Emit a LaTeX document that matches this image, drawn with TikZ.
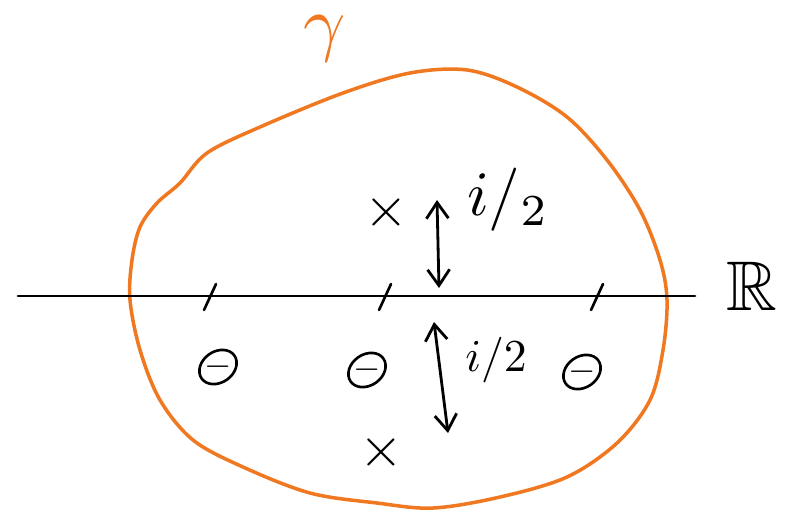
\documentclass[tikz,border=0pt]{standalone}
\usepackage{amsmath,amssymb}
\usetikzlibrary{arrows.meta,positioning,shapes.geometric}
\definecolor{curveorange}{RGB}{240,120,32}

\begin{document}
\begin{tikzpicture}[x=0.02cm,y=-0.02cm,
  ink/.style={line width=1.6pt,line cap=round,line join=round},
  pole/.style={inner sep=0pt,scale=3.2},
  zero/.style={draw,ellipse,line width=1.5pt,minimum width=0.8cm,minimum height=0.62cm,
               inner sep=0pt,rotate=35},
  minus/.style={inner sep=0pt,scale=2},
  tick/.style={ink,line width=1.5pt},
  arr/.style={ink,{Straight Barb[length=3.2mm,width=4.4mm]}-{Straight Barb[length=3.2mm,width=4.4mm]}}]
\useasboundingbox (0,0) rectangle (800,515);
% contour gamma
\draw[curveorange,line width=2pt] plot[smooth cycle,tension=0.55] coordinates {
  (130,300) (132,260) (140,227) (157,203) (180,183) (207,153) (260,127)
  (343,93) (410,73) (467,70) (517,87) (567,117) (607,160) (640,210)
  (660,260) (667,300) (663,350) (650,400) (617,443) (567,477) (500,497)
  (433,508) (377,503) (310,493) (243,467) (193,440) (160,400) (140,350)};
\node[curveorange,scale=4.2,inner sep=0pt] (gam) at (325,39) {$\gamma$};
% real axis
\coordinate (axL) at (18,296);
\coordinate (axR) at (695,296);
\draw[ink] (axL) -- (axR);
\node[scale=4] (lblR) at (752,286) {$\mathbb{R}$};
% ticks on the axis
\foreach \tx in {210,385,597}
  \draw[tick] (\tx-6,310) -- (\tx+6,284);
% poles
\node[pole] (poleup) at (386,212) {$\times$};
\node[pole] (poledn) at (381,452) {$\times$};
% distances
\coordinate (upA) at (439,288);
\coordinate (upB) at (437,200);
\coordinate (dnA) at (434,322);
\coordinate (dnB) at (448,433);
\draw[arr] (upA) -- (upB);
\draw[arr] (dnA) -- (dnB);
\node[scale=3.6] (halfup) at (508,200) {$i/_{2}$};
\node[scale=2.6] (halfdn) at (496,360) {$i/2$};
% zeros
\node[zero] (zA) at (218,367) {};
\node[zero] (zB) at (367,370) {};
\node[zero] (zC) at (582,372) {};
\node[minus] (mA) at (zA) {$-$};
\node[minus] (mB) at (zB) {$-$};
\node[minus] (mC) at (zC) {$-$};
\end{tikzpicture}
\end{document}
